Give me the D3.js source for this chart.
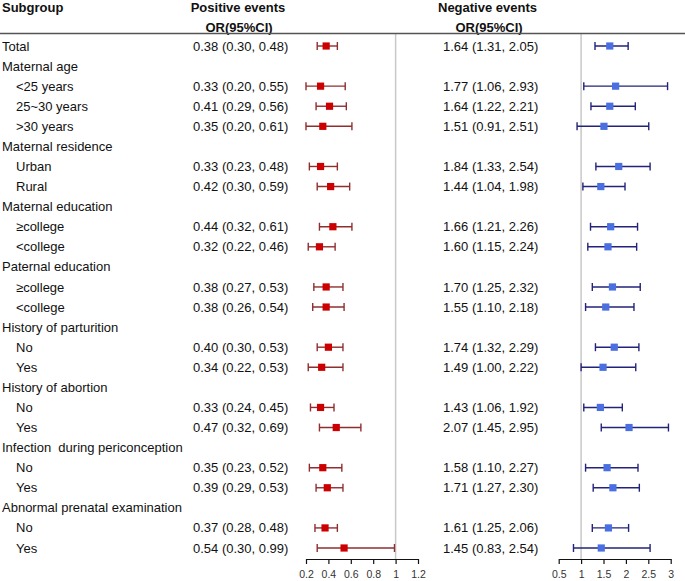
<!DOCTYPE html>
<html><head><meta charset="utf-8">
<script src="https://cdn.jsdelivr.net/npm/d3@7"></script>
<style>body{margin:0;background:#fff}svg{display:block;font-family:Arial,"Liberation Sans",sans-serif}svg text{white-space:pre}</style>
</head><body><div id="chart"></div>
<script>
const labels = ["Total","Maternal age","<25 years","25~30 years",">30 years","Maternal residence","Urban","Rural","Maternal education","\u2265college","<college","Paternal education","\u2265college","<college","History of parturition","No","Yes","History of abortion","No","Yes","Infection  during periconception","No","Yes","Abnormal prenatal examination","No","Yes"];
const indent = [0,0,1,1,1,0,1,1,0,1,1,0,1,1,0,1,1,0,1,1,0,1,1,0,1,1];
// positive events (null for group headers)
const posOR = [0.38,null,0.33,0.41,0.35,null,0.33,0.42,null,0.44,0.32,null,0.38,0.38,null,0.40,0.34,null,0.33,0.47,null,0.35,0.39,null,0.37,0.54];
const posLo = [0.30,null,0.20,0.29,0.20,null,0.23,0.30,null,0.32,0.22,null,0.27,0.26,null,0.30,0.22,null,0.24,0.32,null,0.23,0.29,null,0.28,0.30];
const posHi = [0.48,null,0.55,0.56,0.61,null,0.48,0.59,null,0.61,0.46,null,0.53,0.54,null,0.53,0.53,null,0.45,0.69,null,0.52,0.53,null,0.48,0.99];
const negOR = [1.64,null,1.77,1.64,1.51,null,1.84,1.44,null,1.66,1.60,null,1.70,1.55,null,1.74,1.49,null,1.43,2.07,null,1.58,1.71,null,1.61,1.45];
const negLo = [1.31,null,1.06,1.22,0.91,null,1.33,1.04,null,1.21,1.15,null,1.25,1.10,null,1.32,1.00,null,1.06,1.45,null,1.10,1.27,null,1.25,0.83];
const negHi = [2.05,null,2.93,2.21,2.51,null,2.54,1.98,null,2.26,2.24,null,2.32,2.18,null,2.29,2.22,null,1.92,2.95,null,2.27,2.30,null,2.06,2.54];
const posTicks = [0.2,0.4,0.6,0.8,1,1.2];
const negTicks = [0.5,1,1.5,2,2.5,3];

const W=685,H=581;
const svg=d3.select("#chart").append("svg").attr("width",W).attr("height",H);
const y=d3.scalePoint().domain(d3.range(labels.length)).range([46,548]);
const xP=d3.scaleLinear().domain([0.2,1.2]).range([306,418]);
const xN=d3.scaleLinear().domain([0.5,3]).range([558.7,670.7]);
const fmt=d3.format(".2f");
const axisY=559;

// reference lines
svg.append("line").attr("x1",xP(1)).attr("x2",xP(1)).attr("y1",33).attr("y2",axisY).attr("stroke","#c8c8c8").attr("stroke-width",1.5);
svg.append("line").attr("x1",xN(1)).attr("x2",xN(1)).attr("y1",33).attr("y2",axisY).attr("stroke","#c8c8c8").attr("stroke-width",1.5);

// headers
const hdr=svg.append("g").attr("font-weight","bold").attr("font-size",13).attr("fill","#111");
hdr.append("text").attr("x",2).attr("y",7).attr("dy","0.35em").text("Subgroup");
hdr.append("text").attr("x",238).attr("y",7).attr("dy","0.35em").attr("text-anchor","middle").text("Positive events");
hdr.append("text").attr("x",239).attr("y",27).attr("dy","0.35em").attr("text-anchor","middle").text("OR(95%CI)");
hdr.append("text").attr("x",487.5).attr("y",7).attr("dy","0.35em").attr("text-anchor","middle").text("Negative events");
hdr.append("text").attr("x",489).attr("y",27).attr("dy","0.35em").attr("text-anchor","middle").text("OR(95%CI)");
svg.append("line").attr("x1",0).attr("x2",W).attr("y1",33.5).attr("y2",33.5).attr("stroke","#555").attr("stroke-width",1.6);

const rows=svg.append("g").attr("font-size",13).attr("fill","#111");
labels.forEach((l,i)=>{
  rows.append("text").attr("x",indent[i]?16:2).attr("y",y(i)).attr("dy","0.35em").text(l);
  if(posOR[i]!=null){
    rows.append("text").attr("x",193).attr("y",y(i)).attr("dy","0.35em").text(`${fmt(posOR[i])} (${fmt(posLo[i])}, ${fmt(posHi[i])})`);
    rows.append("text").attr("x",443).attr("y",y(i)).attr("dy","0.35em").text(`${fmt(negOR[i])} (${fmt(negLo[i])}, ${fmt(negHi[i])})`);
  }
});

function drawCI(x,lo,hi,est,lineCol,boxCol){
  const g=svg.append("g");
  const idx=d3.range(labels.length).filter(i=>est[i]!=null);
  idx.forEach(i=>{
    const yy=y(i);
    g.append("line").attr("x1",x(lo[i])).attr("x2",x(hi[i])).attr("y1",yy).attr("y2",yy).attr("stroke",lineCol).attr("stroke-width",1.4);
    [lo[i],hi[i]].forEach(v=>g.append("line").attr("x1",x(v)).attr("x2",x(v)).attr("y1",yy-4).attr("y2",yy+4).attr("stroke",lineCol).attr("stroke-width",1.4));
    g.append("rect").attr("x",x(est[i])-3.6).attr("y",yy-3.6).attr("width",7.2).attr("height",7.2).attr("fill",boxCol);
  });
}
drawCI(xP,posLo,posHi,posOR,"#8f2e2e","#cc0000");
drawCI(xN,negLo,negHi,negOR,"#23237a","#4a6fe0");

function axis(x,ticks){
  const a=d3.axisBottom(x).tickValues(ticks).tickFormat(d3.format("")).tickSize(5).tickSizeOuter(0);
  const g=svg.append("g").attr("transform",`translate(0,${axisY})`).call(a);
  g.select(".domain").attr("stroke","#111").attr("stroke-width",1.2);
  g.selectAll(".tick line").attr("stroke","#111").attr("stroke-width",1.2);
  g.selectAll(".tick text").attr("font-size",10.5).attr("font-family","Arial,'Liberation Sans',sans-serif").attr("fill","#333").attr("dy","1.05em");
}
axis(xP,posTicks);
axis(xN,negTicks);
</script></body></html>
